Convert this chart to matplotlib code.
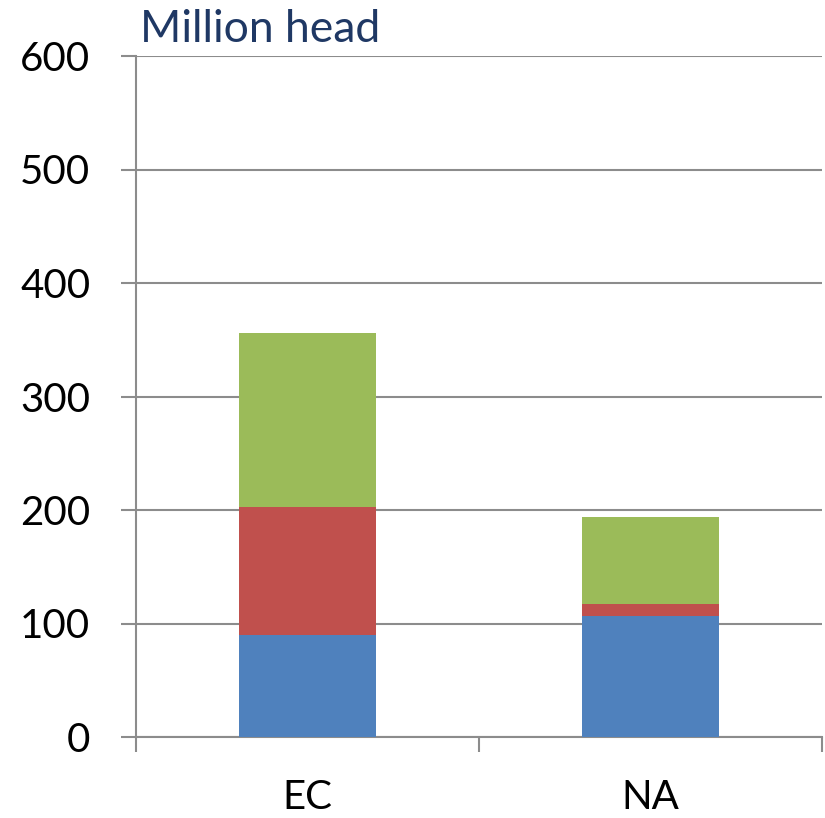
import numpy as np
import matplotlib.pyplot as plt

categories = ["EC", "NA"]
blue_vals = [90, 106.5]
red_vals = [113, 10.3]
green_vals = [153, 77.3]
yticks = [0, 100, 200, 300, 400, 500, 600]

plt.rcParams['font.family'] = ['Lato', 'DejaVu Sans']

W, H = 825, 818
fig = plt.figure(figsize=(W / 100, H / 100), dpi=100)
ax = fig.add_axes([136/W, (H - 737)/H, 686/W, 681/H])

x = np.arange(len(categories))
bw = 0.4
blue = np.array(blue_vals)
red = np.array(red_vals)
green = np.array(green_vals)
ax.bar(x, blue, bw, color="#4F81BD", zorder=3)
ax.bar(x, red, bw, bottom=blue, color="#C0504D", zorder=3)
ax.bar(x, green, bw, bottom=blue + red, color="#9BBB59", zorder=3)

ax.set_xlim(-0.5, 1.5)
ax.set_ylim(0, 600)
ax.set_yticks(yticks)
ax.set_yticklabels([str(t) for t in yticks], fontsize=29)
ax.yaxis.grid(True, color="#8c8c8c", linewidth=1.5, zorder=0)
ax.tick_params(axis='y', length=11, width=1.5, color="#8c8c8c", pad=22)

# category ticks on the boundaries
ax.set_xticks([-0.5, 0.5, 1.5])
ax.set_xticklabels([])
ax.tick_params(axis='x', length=11, width=1.5, color="#8c8c8c", direction='out')

# category labels placed by hand so they fit at the bottom edge
for xi, name in zip(x, categories):
    ax.annotate(name, xy=(xi, 0), xycoords=('data', 'axes fraction'),
                xytext=(0, -(809 - 737) * 0.72), textcoords='offset points',
                ha='center', va='baseline', fontsize=29)

for s in ["top", "right"]:
    ax.spines[s].set_visible(False)
for s in ["left", "bottom"]:
    ax.spines[s].set_color("#8c8c8c")
    ax.spines[s].set_linewidth(1.5)

fig.text(140/W, 1 - 42/H, "Million head", fontsize=32, color="#1F3864",
         ha='left', va='baseline')

fig.savefig("out.png", dpi=100)
